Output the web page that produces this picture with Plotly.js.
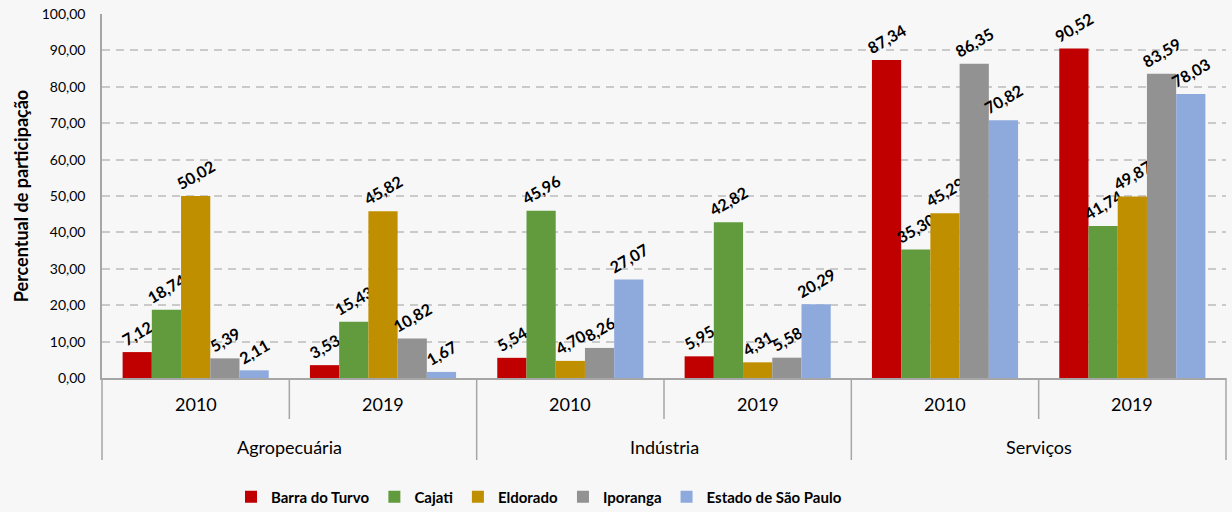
<!DOCTYPE html>
<html>
<head>
<meta charset="utf-8">
<script src="https://cdn.plot.ly/plotly-3.0.1.min.js"></script>
<style>
  html, body { margin: 0; padding: 0; background: #f7f7f7; }
  #chart { width: 1232px; height: 512px; }
</style>
</head>
<body>
<div id="chart"></div>
<script>
// sectors and years (two-level category axis)
const sectors = ['Agropecuária', 'Agropecuária', 'Indústria', 'Indústria', 'Serviços', 'Serviços'];
const years = ['2010', '2019', '2010', '2019', '2010', '2019'];

const barraDoTurvo = [7.12, 3.53, 5.54, 5.95, 87.34, 90.52];
const cajati = [18.74, 15.43, 45.96, 42.82, 35.30, 41.74];
const eldorado = [50.02, 45.82, 4.70, 4.31, 45.29, 49.87];
const iporanga = [5.39, 10.82, 8.26, 5.58, 86.35, 83.59];
const estadoSP = [2.11, 1.67, 27.07, 20.29, 70.82, 78.03];

const seriesNames = ['Barra do Turvo', 'Cajati', 'Eldorado', 'Iporanga', 'Estado de São Paulo'];
const seriesValues = [barraDoTurvo, cajati, eldorado, iporanga, estadoSP];
const colors = ['#c00000', '#629b3d', '#bf8f00', '#929292', '#8eaadc'];

const fmt = v => v.toFixed(2).replace('.', ',');

const data = seriesValues.map((vals, i) => ({
    type: 'bar',
    name: seriesNames[i],
    x: [sectors, years],
    y: vals,
    marker: {color: colors[i]},
    text: vals.map(fmt),
    textposition: 'outside',
    textangle: -30,
    constraintext: 'none',
    cliponaxis: false,
    textfont: {family: 'Lato, sans-serif', size: 16, color: '#000', weight: 'bold'},
    hoverinfo: 'name+y'
}));

// category labels under the axis, drawn as annotations so the two rows can be spaced like the original
const n = years.length;
const axisLabels = [];
const dividers = [];
const axisGray = '#a6a6a6';
const plotH = 512 - 14 - 134;
years.forEach((yr, i) => {
    axisLabels.push({
        xref: 'paper', yref: 'paper', x: (i + 0.5) / n, y: 0,
        xanchor: 'center', yanchor: 'middle', yshift: -26, showarrow: false,
        text: yr, font: {size: 18}
    });
});
for (let i = 0; i < n; i += 2) {
    axisLabels.push({
        xref: 'paper', yref: 'paper', x: (i + 1) / n, y: 0,
        xanchor: 'center', yanchor: 'middle', yshift: -69, showarrow: false,
        text: sectors[i], font: {size: 18}
    });
}
for (let i = 0; i <= n; i++) {
    const outer = i % 2 === 0;
    dividers.push({
        type: 'line', xref: 'paper', yref: 'paper',
        x0: i / n, x1: i / n, y0: 0, y1: -(outer ? 82 : 41) / plotH,
        line: {color: axisGray, width: 1.5}
    });
}

const layout = {
    width: 1232,
    height: 512,
    paper_bgcolor: '#f7f7f7',
    plot_bgcolor: '#f7f7f7',
    font: {family: 'Lato, sans-serif', size: 15, color: '#000'},
    separators: ',.',
    margin: {l: 102, r: 6, t: 14, b: 134},
    barmode: 'group',
    bargap: 0.22,
    bargroupgap: 0,
    showlegend: true,
    legend: {
        orientation: 'h',
        xref: 'container', x: 231 / 1232, xanchor: 'left',
        yref: 'container', y: 15 / 512, yanchor: 'middle',
        font: {size: 15, weight: 'bold'},
        itemwidth: 30,
        traceorder: 'normal'
    },
    annotations: axisLabels,
    shapes: dividers,
    xaxis: {
        type: 'multicategory',
        showline: true,
        linecolor: axisGray,
        linewidth: 1.5,
        showdividers: false,
        showticklabels: false,
        ticks: ''
    },
    yaxis: {
        range: [0, 100],
        dtick: 10,
        tickformat: '.2f',
        showline: true,
        linecolor: axisGray,
        linewidth: 1.5,
        gridcolor: '#cacaca',
        griddash: '8px,6px',
        gridwidth: 2,
        zeroline: false,
        ticklabelstandoff: 12,
        tickfont: {size: 14},
        title: {text: 'Percentual de participação', font: {size: 18, weight: 'bold'}, standoff: 8}
    }
};

Plotly.newPlot('chart', data, layout, {displayModeBar: false});
</script>
</body>
</html>
